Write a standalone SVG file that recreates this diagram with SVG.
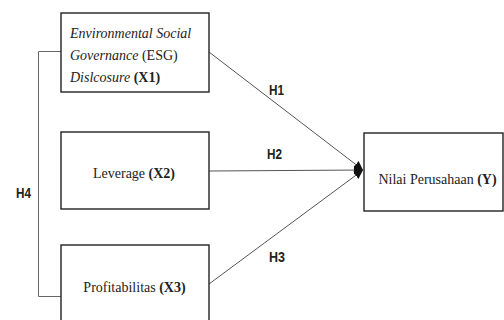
<svg xmlns="http://www.w3.org/2000/svg" width="504" height="320" viewBox="0 0 504 320">
<style>
.box{fill:#fff;stroke:#222;stroke-width:1.4}
.t{font-family:"Liberation Serif","Times New Roman",serif;font-size:14px;fill:#222}
.b{font-weight:bold}
.i{font-style:italic}
.lab{font-family:"Liberation Sans",Arial,sans-serif;font-size:15px;font-weight:bold;fill:#222}
.con{fill:none;stroke:#555;stroke-width:1}
.br{fill:none;stroke:#666;stroke-width:1}
</style>
<defs>
<marker id="ah" markerUnits="userSpaceOnUse" markerWidth="10" markerHeight="12" refX="9" refY="6" orient="auto" viewBox="0 0 10 12">
<path d="M0,1.5 L9,6 L0,10.5 z" fill="#111"/>
</marker>
</defs>
<g id="connectors">
<path class="br" d="M61,51.5 H38.5 V296.5 H61"/>
<line class="con" x1="209" y1="52" x2="363" y2="170" marker-end="url(#ah)"/>
<line class="con" x1="209" y1="171" x2="363" y2="170" marker-end="url(#ah)"/>
<line class="con" x1="209" y1="284" x2="363" y2="170" marker-end="url(#ah)"/>
<text class="lab" x="269" y="95" textLength="15" lengthAdjust="spacingAndGlyphs">H1</text>
<text class="lab" x="267" y="159" textLength="15" lengthAdjust="spacingAndGlyphs">H2</text>
<text class="lab" x="269" y="262" textLength="16" lengthAdjust="spacingAndGlyphs">H3</text>
<text class="lab" x="16" y="198" textLength="15" lengthAdjust="spacingAndGlyphs">H4</text>
</g>
<g id="x1">
<rect class="box" x="61" y="13" width="148" height="79"/>
<text class="t" x="70" y="38"><tspan class="i">Environmental Social</tspan></text>
<text class="t" x="70" y="60"><tspan class="i">Governance</tspan> (ESG)</text>
<text class="t" x="70" y="82"><tspan class="i">Dislcosure</tspan> <tspan class="b">(X1)</tspan></text>
</g>
<g id="x2">
<rect class="box" x="61" y="132" width="148" height="77"/>
<text class="t" x="134" y="178" text-anchor="middle">Leverage <tspan class="b">(X2)</tspan></text>
</g>
<g id="x3">
<rect class="box" x="61" y="245" width="148" height="90"/>
<text class="t" x="134.5" y="292" text-anchor="middle">Profitabilitas <tspan class="b">(X3)</tspan></text>
</g>
<g id="y">
<rect class="box" x="364" y="133" width="139" height="78"/>
<text class="t" x="437.5" y="184" text-anchor="middle">Nilai Perusahaan <tspan class="b">(Y)</tspan></text>
</g>
</svg>
